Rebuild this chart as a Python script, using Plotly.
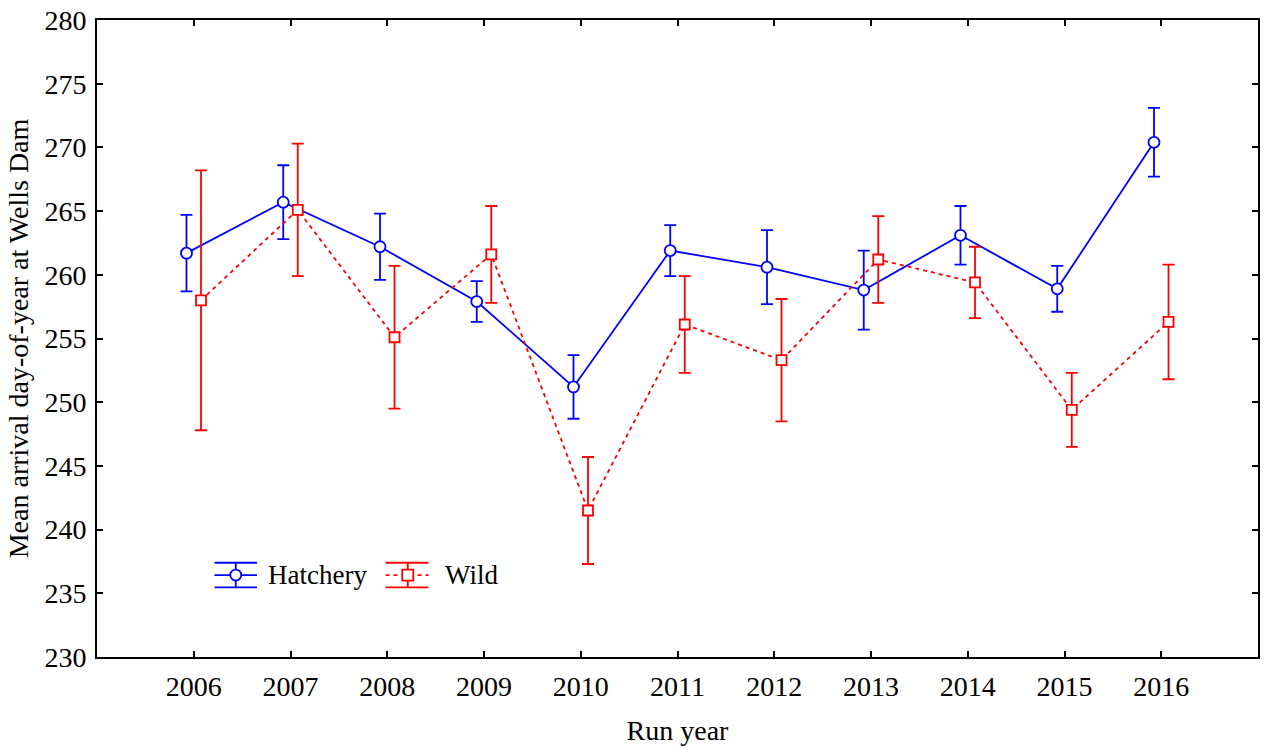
import plotly.graph_objects as go

# Mean arrival day-of-year at Wells Dam, by run year (mean ± error)
years = [2006, 2007, 2008, 2009, 2010, 2011, 2012, 2013, 2014, 2015, 2016]
hatchery_mean = [261.7, 265.7, 262.2, 257.9, 251.2, 261.9, 260.6, 258.8, 263.1, 258.9, 270.4]
hatchery_err = [3.0, 2.9, 2.6, 1.6, 2.5, 2.0, 2.9, 3.1, 2.3, 1.8, 2.7]
wild_mean = [258.0, 265.1, 255.1, 261.6, 241.5, 256.1, 253.3, 261.2, 259.4, 249.4, 256.3]
wild_err = [10.2, 5.2, 5.6, 3.8, 4.2, 3.8, 4.8, 3.4, 2.8, 2.9, 4.5]
y_ticks = [230, 235, 240, 245, 250, 255, 260, 265, 270, 275, 280]

BLUE = "#0000ff"
RED = "#ff0000"
FONT = "Liberation Serif, Times New Roman, serif"
FS = 28

W, H = 1265, 747
ML, MR, MT, MB = 97, 5, 17, 90
PW, PH = W - ML - MR, H - MT - MB

# small horizontal dodge so the two groups don't overlap
dodge = 0.075

fig = go.Figure()
fig.add_trace(go.Scatter(
    x=[y - dodge for y in years], y=hatchery_mean, name="Hatchery",
    mode="lines+markers",
    line=dict(color=BLUE, width=1.8),
    marker=dict(symbol="circle", size=11, color="white",
                line=dict(color=BLUE, width=1.8)),
    error_y=dict(type="data", array=hatchery_err, color=BLUE,
                 thickness=1.8, width=6),
    showlegend=False,
))
fig.add_trace(go.Scatter(
    x=[y + dodge for y in years], y=wild_mean, name="Wild",
    mode="lines+markers",
    line=dict(color=RED, width=1.8, dash="4px,4px"),
    marker=dict(symbol="square", size=10, color="white",
                line=dict(color=RED, width=1.8)),
    error_y=dict(type="data", array=wild_err, color=RED,
                 thickness=1.8, width=6),
    showlegend=False,
))


def px_x(p):
    return (p - ML) / PW


def px_y(p):
    return (H - MB - p) / PH


# hand-drawn legend: symbol with whisker lines, then label
shapes = []
annotations = []


def legend_item(x0, x1, xc, yc, color, dash, symbol, label, xtext):
    for dy in (-12.4, 12.4):
        shapes.append(dict(type="line", xref="paper", yref="paper",
                           x0=px_x(x0), x1=px_x(x1), y0=px_y(yc + dy), y1=px_y(yc + dy),
                           line=dict(color=color, width=1.8)))
    shapes.append(dict(type="line", xref="paper", yref="paper",
                       x0=px_x(x0), x1=px_x(x1), y0=px_y(yc), y1=px_y(yc),
                       line=dict(color=color, width=1.8, dash=dash)))
    shapes.append(dict(type="line", xref="paper", yref="paper",
                       x0=px_x(xc), x1=px_x(xc), y0=px_y(yc - 12.4), y1=px_y(yc + 12.4),
                       line=dict(color=color, width=1.8)))
    shapes.append(dict(type=symbol, xref="paper", yref="paper",
                       xsizemode="pixel", ysizemode="pixel",
                       xanchor=px_x(xc), yanchor=px_y(yc),
                       x0=-5.5, x1=5.5, y0=-5.5, y1=5.5,
                       fillcolor="white", line=dict(color=color, width=1.8)))
    annotations.append(dict(text=label, xref="paper", yref="paper",
                            x=px_x(xtext), y=px_y(yc), xanchor="left", yanchor="middle",
                            showarrow=False, font=dict(family=FONT, size=27, color="black")))


legend_item(214.7, 257.3, 236.0, 574.7, BLUE, "solid", "circle", "Hatchery", 266)
legend_item(386.0, 429.0, 408.3, 574.7, RED, "4px,4px", "rect", "Wild", 444)

axis_common = dict(
    showline=True, linecolor="black", linewidth=2, mirror="ticks",
    ticks="inside", ticklen=6, tickwidth=2, tickcolor="black",
    showgrid=False, zeroline=False,
    tickfont=dict(family=FONT, size=FS, color="black"),
)

fig.update_xaxes(range=[2005, 2017], tickvals=years, ticktext=[str(y) for y in years],
                 ticklabelstandoff=3,
                 title=dict(text="Run year", font=dict(family=FONT, size=FS, color="black"),
                            standoff=20),
                 **axis_common)
fig.update_yaxes(range=[230, 280], tickvals=y_ticks, ticklabelstandoff=3,
                 title=dict(text="Mean arrival day-of-year at Wells Dam",
                            font=dict(family=FONT, size=FS, color="black"), standoff=8),
                 **axis_common)

fig.update_layout(
    width=W, height=H,
    margin=dict(l=ML, r=MR, t=MT, b=MB),
    plot_bgcolor="white", paper_bgcolor="white",
    shapes=shapes, annotations=annotations,
    font=dict(family=FONT, color="black"),
)

fig.write_html("out.html")
